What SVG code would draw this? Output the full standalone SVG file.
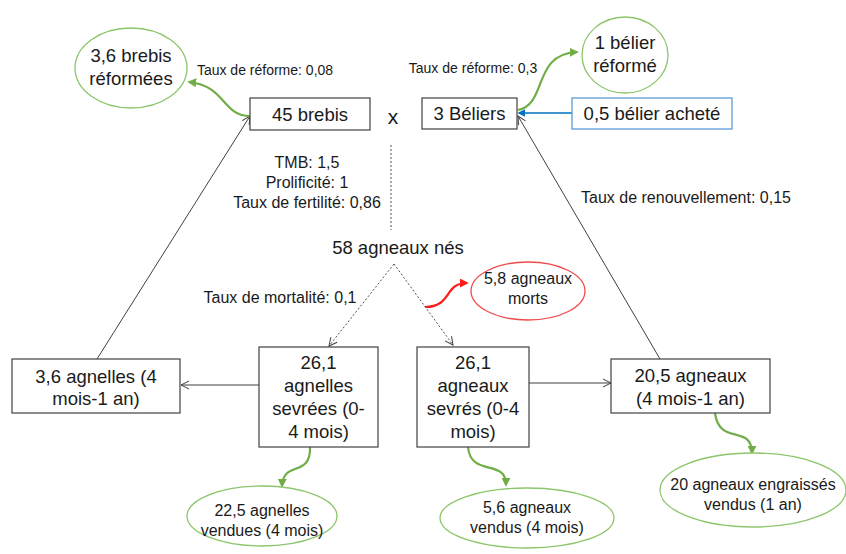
<svg xmlns="http://www.w3.org/2000/svg" width="846" height="554" viewBox="0 0 846 554">
  <style>
    text { font-family: "Liberation Sans", Arial, sans-serif; fill: #1a1a1a; text-anchor: middle; }
    .big { font-size: 18.5px; }
    .mid { font-size: 16px; }
    .sm { font-size: 14px; }
    .lbl { font-size: 16px; }
    .box { fill: #ffffff; stroke: #404040; stroke-width: 1.2; }
    .bluebox { fill: #ffffff; stroke: #5b9bd5; stroke-width: 1.3; }
    .gell { fill: #ffffff; stroke: #8cc66b; stroke-width: 1.3; }
    .rell { fill: #ffffff; stroke: #f04a4a; stroke-width: 1.3; }
    .line { fill: none; stroke: #404040; stroke-width: 1; }
    .dot { fill: none; stroke: #505050; stroke-width: 1; stroke-dasharray: 2 2; }
    .green { fill: none; stroke: #70ad47; stroke-width: 2.2; }
    .red { fill: none; stroke: #ff1a1a; stroke-width: 2.2; }
    .blue { fill: none; stroke: #0070c0; stroke-width: 1.6; }
  </style>
  <defs>
    <marker id="open" viewBox="0 0 10 10" refX="9" refY="5" markerWidth="10" markerHeight="10" markerUnits="userSpaceOnUse" orient="auto">
      <path d="M1,1 L9,5 L1,9" fill="none" stroke="#404040" stroke-width="1"/>
    </marker>
    <marker id="gtri" viewBox="0 0 10 10" refX="8" refY="5" markerWidth="9" markerHeight="9" markerUnits="userSpaceOnUse" orient="auto">
      <path d="M0,0 L10,5 L0,10 Z" fill="#70ad47"/>
    </marker>
    <marker id="rtri" viewBox="0 0 10 10" refX="8" refY="5" markerWidth="9" markerHeight="9" markerUnits="userSpaceOnUse" orient="auto">
      <path d="M0,0 L10,5 L0,10 Z" fill="#ff1a1a"/>
    </marker>
    <marker id="btri" viewBox="0 0 10 10" refX="8" refY="5" markerWidth="8" markerHeight="8" markerUnits="userSpaceOnUse" orient="auto">
      <path d="M0,0 L10,5 L0,10 Z" fill="#0070c0"/>
    </marker>
  </defs>

  <!-- connectors -->
  <g id="connectors">
    <line class="line" x1="97" y1="359" x2="250" y2="116" marker-end="url(#open)"/>
    <line class="line" x1="660" y1="359" x2="518" y2="116" marker-end="url(#open)"/>
    <line class="line" x1="259" y1="385" x2="181" y2="385" marker-end="url(#open)"/>
    <line class="line" x1="529" y1="383" x2="611" y2="383" marker-end="url(#open)"/>
    <line class="dot" x1="391" y1="145" x2="391" y2="230"/>
    <line class="dot" x1="394" y1="264" x2="329" y2="346" marker-end="url(#open)"/>
    <line class="dot" x1="394" y1="264" x2="453" y2="345" marker-end="url(#open)"/>
    <line class="blue" x1="572" y1="113" x2="519" y2="113" marker-end="url(#btri)"/>
    <path class="green" d="M250,116 C222,116 226,86 189,82" marker-end="url(#gtri)"/>
    <path class="green" d="M518,110 C548,104 532,54 577,52" marker-end="url(#gtri)"/>
    <path class="green" d="M310,447 C311,478 283,460 282,486" marker-end="url(#gtri)"/>
    <path class="green" d="M468,447 C471,478 506,458 506,485" marker-end="url(#gtri)"/>
    <path class="green" d="M715,413 C719,446 752,424 752,453" marker-end="url(#gtri)"/>
    <path class="red" d="M425,307 C452,307 444,283 467,283" marker-end="url(#rtri)"/>
  </g>

  <!-- edge labels -->
  <g id="labels">
    <text class="sm" x="265" y="75">Taux de réforme: 0,08</text>
    <text class="sm" x="473" y="73">Taux de réforme: 0,3</text>
    <text class="lbl" x="307" y="168">TMB: 1,5</text>
    <text class="lbl" x="307" y="188">Prolificité: 1</text>
    <text class="lbl" x="307" y="208">Taux de fertilité: 0,86</text>
    <text class="lbl" x="280" y="303">Taux de mortalité: 0,1</text>
    <text class="lbl" x="686" y="203">Taux de renouvellement: 0,15</text>
    <text x="393" y="124" style="font-size:21px">x</text>
  </g>

  <g id="brebis-reformees">
    <ellipse class="gell" cx="131" cy="68" rx="56" ry="40"/>
    <text class="big" x="131" y="62">3,6 brebis</text>
    <text class="big" x="131" y="85">réformées</text>
  </g>

  <g id="brebis">
    <rect class="box" x="250" y="98" width="120" height="32"/>
    <text class="big" x="310" y="121">45 brebis</text>
  </g>

  <g id="beliers">
    <rect class="box" x="422" y="98" width="95" height="31"/>
    <text class="big" x="469.5" y="120">3 Béliers</text>
  </g>

  <g id="belier-achete">
    <rect class="bluebox" x="572" y="98" width="160" height="31"/>
    <text class="big" x="652" y="120">0,5 bélier acheté</text>
  </g>

  <g id="belier-reforme">
    <ellipse class="gell" cx="625" cy="55" rx="43" ry="38"/>
    <text class="big" x="625" y="49">1 bélier</text>
    <text class="big" x="625" y="72">réformé</text>
  </g>

  <g id="agneaux-nes">
    <text class="big" x="398" y="254">58 agneaux nés</text>
  </g>

  <g id="agneaux-morts">
    <ellipse class="rell" cx="528" cy="291" rx="57" ry="29"/>
    <text class="mid" x="528" y="284">5,8 agneaux</text>
    <text class="mid" x="528" y="304">morts</text>
  </g>

  <g id="agnelles-4m-1an">
    <rect class="box" x="12" y="359" width="168" height="54"/>
    <text class="big" x="96" y="383">3,6 agnelles (4</text>
    <text class="big" x="96" y="405">mois-1 an)</text>
  </g>

  <g id="agnelles-sevrees">
    <rect class="box" x="259" y="347" width="119" height="100"/>
    <text class="big" x="318.5" y="369">26,1</text>
    <text class="big" x="318.5" y="392">agnelles</text>
    <text class="big" x="318.5" y="415">sevrées (0-</text>
    <text class="big" x="318.5" y="438">4 mois)</text>
  </g>

  <g id="agneaux-sevres">
    <rect class="box" x="417" y="347" width="112" height="100"/>
    <text class="big" x="473" y="369">26,1</text>
    <text class="big" x="473" y="392">agneaux</text>
    <text class="big" x="473" y="415">sevrés (0-4</text>
    <text class="big" x="473" y="438">mois)</text>
  </g>

  <g id="agneaux-4m-1an">
    <rect class="box" x="611" y="359" width="159" height="54"/>
    <text class="big" x="690.5" y="382">20,5 agneaux</text>
    <text class="big" x="690.5" y="405">(4 mois-1 an)</text>
  </g>

  <g id="agnelles-vendues">
    <ellipse class="gell" cx="262" cy="516" rx="75" ry="30"/>
    <text class="mid" x="262" y="516">22,5 agnelles</text>
    <text class="mid" x="262" y="536">vendues (4 mois)</text>
  </g>

  <g id="agneaux-vendus">
    <ellipse class="gell" cx="527" cy="518" rx="87" ry="30"/>
    <text class="mid" x="527" y="513">5,6 agneaux</text>
    <text class="mid" x="527" y="533">vendus (4 mois)</text>
  </g>

  <g id="agneaux-engraisses">
    <ellipse class="gell" cx="753" cy="490" rx="93" ry="37"/>
    <text class="mid" x="753" y="490">20 agneaux engraissés</text>
    <text class="mid" x="753" y="510">vendus (1 an)</text>
  </g>
</svg>
